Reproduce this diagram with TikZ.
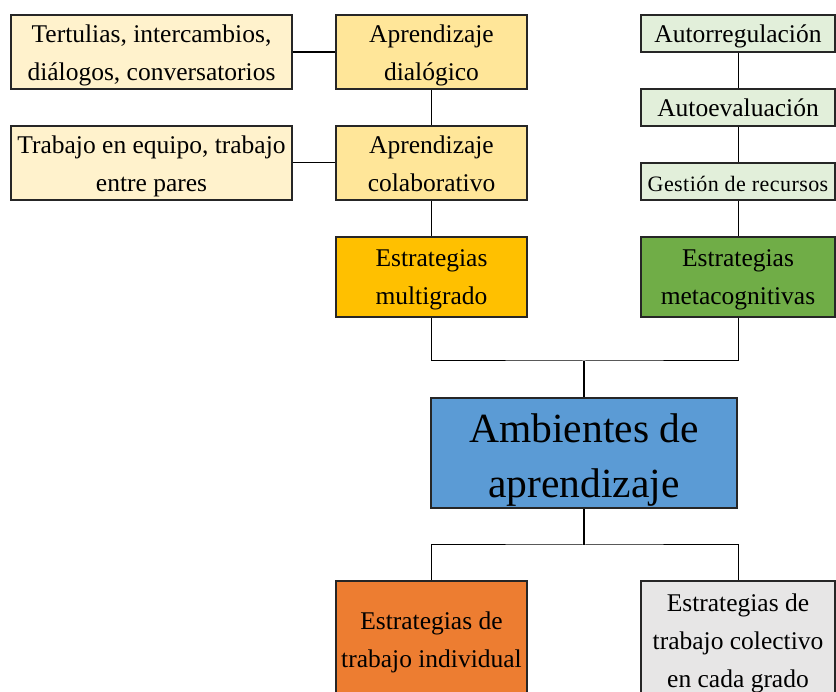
\documentclass[tikz,border=0pt]{standalone}
\usepackage{fontspec}
\setmainfont{Liberation Serif}
\definecolor{cream}{HTML}{FFF2CC}
\definecolor{lightorange}{HTML}{FFE699}
\definecolor{gold}{HTML}{FFC000}
\definecolor{leaf}{HTML}{70AD47}
\definecolor{palegreen}{HTML}{E2EFDA}
\definecolor{skyblue}{HTML}{5B9BD5}
\definecolor{deeporange}{HTML}{ED7D31}
\definecolor{lightgray}{HTML}{E7E6E6}
\definecolor{edge}{HTML}{262626}
\newcommand\bxst{\rule[-10pt]{0pt}{26pt}}
\newcommand\smst{\rule[-8pt]{0pt}{28pt}}
\newcommand\bgst{\rule[-12pt]{0pt}{45pt}}
\begin{document}
\begin{tikzpicture}[x=1pt,y=-1pt,
  box/.style={draw=edge, line width=1.3pt, inner sep=0pt},
  txt/.style={align=center, inner sep=0pt, text=black, font={\fontsize{25.5}{38}\selectfont}},
  smalltxt/.style={txt, font={\fontsize{22}{26}\selectfont\addfontfeatures{LetterSpace=2}}},
  bigtxt/.style={txt, font={\fontsize{41.5}{55}\selectfont}},
  thinline/.style={draw=black, line width=1pt},
  thickline/.style={draw=black, line width=2pt}]
\useasboundingbox (0,0) rectangle (836,692);

% boxes
\node[box, fill=cream, minimum width=281pt, minimum height=74pt] (tert) at (151.5,52) {};
\node[box, fill=cream, minimum width=281pt, minimum height=74pt] (trab) at (151.5,163) {};
\node[box, fill=lightorange, minimum width=191pt, minimum height=74pt] (dial) at (431.5,52) {};
\node[box, fill=lightorange, minimum width=191pt, minimum height=74pt] (colab) at (431.5,163) {};
\node[box, fill=palegreen, minimum width=194pt, minimum height=37pt] (autor) at (738,33.5) {};
\node[box, fill=palegreen, minimum width=194pt, minimum height=37pt] (autoe) at (738,107.5) {};
\node[box, fill=palegreen, minimum width=194pt, minimum height=37pt] (gest) at (738,181.5) {};
\node[box, fill=gold, minimum width=191pt, minimum height=80pt] (multi) at (431.5,277) {};
\node[box, fill=leaf, minimum width=194pt, minimum height=80pt] (meta) at (738,277) {};
\node[box, fill=skyblue, minimum width=306pt, minimum height=110pt] (amb) at (584,453) {};
\node[box, fill=deeporange, minimum width=191pt, minimum height=118pt] (indiv) at (431.5,640) {};
\node[box, fill=lightgray, minimum width=194pt, minimum height=118pt] (colec) at (738,640) {};

% texts
\node[txt] (tert-t) at ([yshift=-5.5pt]tert.center) {\bxst Tertulias, intercambios,\\diálogos, conversatorios\bxst};
\node[txt] (trab-t) at ([yshift=-5.5pt]trab.center) {\bxst Trabajo en equipo, trabajo\\entre pares\bxst};
\node[txt] (dial-t) at ([yshift=-5.5pt]dial.center) {\bxst Aprendizaje\\dialógico\bxst};
\node[txt] (colab-t) at ([yshift=-5.5pt]colab.center) {\bxst Aprendizaje\\colaborativo\bxst};
\node[txt] (autor-t) at ([yshift=-5pt]autor.center) {\bxst Autorregulación};
\node[txt] (autoe-t) at ([yshift=-5pt]autoe.center) {\bxst Autoevaluación};
\node[smalltxt] (gest-t) at ([yshift=-4pt]gest.center) {\smst Gestión de recursos};
\node[txt] (multi-t) at ([yshift=-5pt]multi.center) {\bxst Estrategias\\multigrado\bxst};
\node[txt] (meta-t) at ([yshift=-5pt]meta.center) {\bxst Estrategias\\metacognitivas\bxst};
\node[bigtxt] (amb-t) at ([yshift=-7pt]amb.center) {\bgst Ambientes de\\aprendizaje\bgst};
\node[txt] (indiv-t) at ([yshift=-5pt]indiv.center) {\bxst Estrategias de\\trabajo individual\bxst};
\node[txt] (colec-t) at ([yshift=-5.5pt]colec.center) {\bxst Estrategias de\\trabajo colectivo\\en cada grado\bxst};

\coordinate (jtop) at (584,361);
\coordinate (jbot) at (584,545);

\draw[thickline] (tert.east) -- (dial.west);
\draw[thinline] (trab.east) -- (colab.west);
\draw[thinline] (dial.south) -- (colab.north);
\draw[thinline] (colab.south) -- (multi.north);
\draw[thinline] (autor.south) -- (autoe.north);
\draw[thinline] (autoe.south) -- (gest.north);
\draw[thinline] (gest.south) -- (meta.north);
\draw[thinline] (multi.south) |- (jtop) -| (meta.south);
\draw[thickline] (jtop) -- (amb.north);
\draw[thickline] (amb.south) -- (jbot);
\draw[thinline] (indiv.north) |- (jbot) -| (colec.north);
\end{tikzpicture}
\end{document}
